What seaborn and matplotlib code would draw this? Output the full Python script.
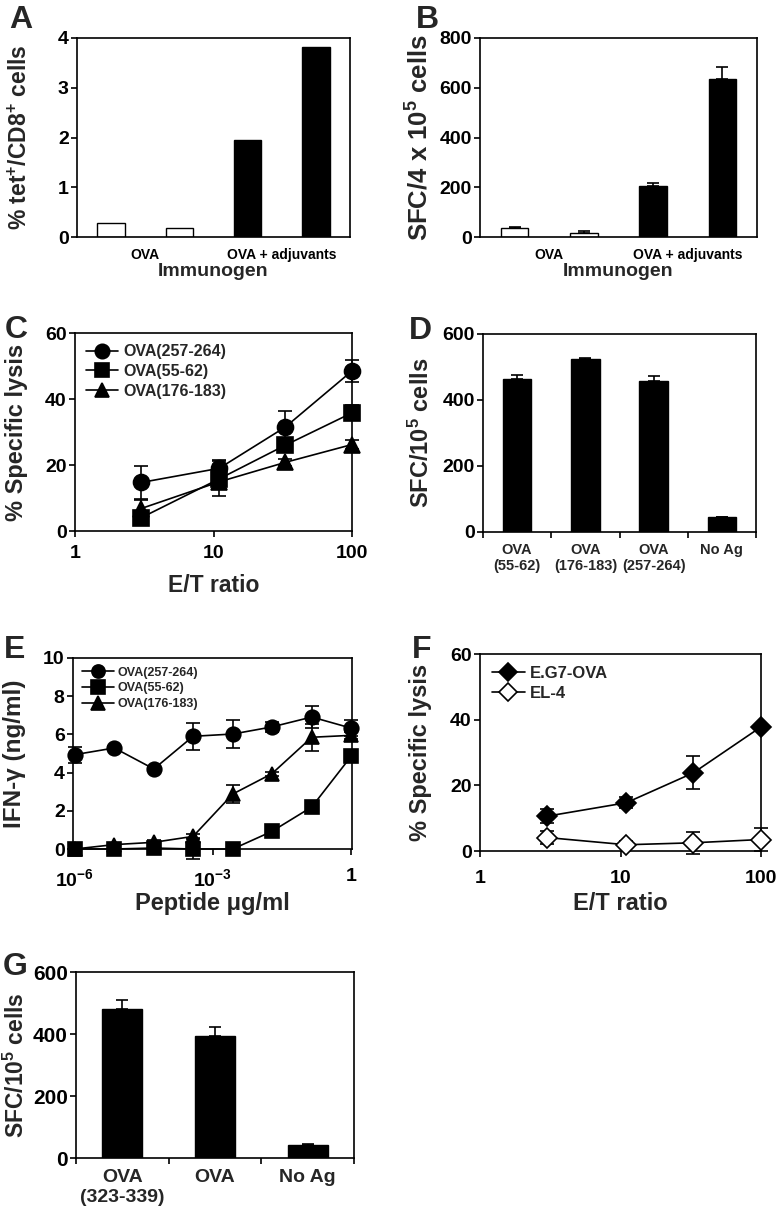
import numpy as np
import pandas as pd
import matplotlib
matplotlib.use('Agg')
import matplotlib.pyplot as plt
import seaborn as sns
from matplotlib.ticker import NullLocator, FixedLocator

# ---- data ----
# A: tetramer staining, 4 mice
a_mice = ['OVA-1', 'OVA-2', 'adj-1', 'adj-2']
a_groups = ['OVA', 'OVA + adjuvants']
a_vals = [0.29, 0.19, 1.94, 3.81]

# B: ELISPOT, 4 mice
b_vals = [38, 16, 207, 636]
b_err = [4, 9, 9, 47]

# C: CTL lysis vs E/T
et_ratio = [3, 11, 33, 100]
c_257 = [14.7, 19.0, 31.5, 48.5]
c_257_err = [5.0, 2.5, 4.8, 3.2]
c_55 = [4.0, 15.8, 26.0, 35.8]
c_55_err = [2.0, 5.3, 2.0, 2.3]
c_176 = [6.8, 14.9, 20.8, 26.2]
c_176_err = [2.5, 1.5, 1.0, 1.5]

# D: ELISPOT per peptide
d_labels = ['OVA\n(55-62)', 'OVA\n(176-183)', 'OVA\n(257-264)', 'No Ag']
d_vals = [465, 523, 457, 44]
d_err = [12, 5, 16, 2]

# E: IFN-gamma vs peptide dose
peptide = [1e-6, 7.2e-6, 5.2e-5, 3.7e-4, 2.7e-3, 1.9e-2, 0.14, 1.0]
e_257 = [4.94, 5.29, 4.19, 5.90, 6.02, 6.39, 6.91, 6.33]
e_257_err = [0.42, 0.1, 0.1, 0.70, 0.75, 0.25, 0.60, 0.40]
e_55 = [0.0, 0.0, 0.05, 0.0, 0.0, 0.92, 2.2, 4.85]
e_55_err = [0.0, 0.0, 0.0, 0.5, 0.0, 0.1, 0.1, 0.1]
e_176 = [0.0, 0.23, 0.35, 0.66, 2.88, 3.94, 5.85, 5.95]
e_176_err = [0.0, 0.1, 0.1, 0.1, 0.45, 0.1, 0.70, 0.2]

# F: lysis of targets
f_eg7 = [10.6, 14.7, 23.8, 37.8]
f_eg7_err = [2.2, 1.7, 5.0, 0.5]
f_el4 = [4.1, 1.9, 2.5, 3.5]
f_el4_err = [2.0, 1.0, 3.4, 3.4]

# G: CD4 ELISPOT
g_labels = ['OVA\n(323-339)', 'OVA', 'No Ag']
g_vals = [482, 394, 41]
g_err = [27, 27, 3]

sns.set_style('ticks')
plt.rcParams['font.family'] = ['Liberation Sans', 'DejaVu Sans']
plt.rcParams['font.weight'] = 'bold'
plt.rcParams['axes.labelweight'] = 'bold'
plt.rcParams['mathtext.fontset'] = 'custom'
plt.rcParams['mathtext.rm'] = 'Liberation Sans:bold'
plt.rcParams['mathtext.it'] = 'Liberation Sans:bold'
plt.rcParams['mathtext.bf'] = 'Liberation Sans:bold'
plt.rcParams['mathtext.default'] = 'rm'
plt.rcParams['axes.linewidth'] = 1.2

W, H = 779, 1213
fig = plt.figure(figsize=(W / 100, H / 100), dpi=100)


def make_ax(x0, x1, y0, y1):
    return fig.add_axes([x0 / W, 1 - y1 / H, (x1 - x0) / W, (y1 - y0) / H])


def style(ax, ylabel, ycoord, yticks, ylim, ylabel_size=17, ytick_size=14):
    ax.set_ylim(*ylim)
    ax.set_yticks(yticks)
    ax.set_ylabel(ylabel, fontsize=ylabel_size)
    ax.yaxis.set_label_coords(ycoord, 0.5)
    ax.tick_params(axis='both', width=1.2, length=4, pad=2, colors='black')
    ax.tick_params(axis='y', labelsize=ytick_size)
    for s in ax.spines.values():
        s.set_linewidth(1.2)
        s.set_color('black')


def bar_panel(ax, cats, vals, colors, err, width):
    df = pd.DataFrame({'cat': cats, 'val': vals})
    sns.barplot(data=df, x='cat', y='val', hue='cat', order=cats,
                palette=dict(zip(cats, colors)), edgecolor='black',
                linewidth=1, width=width, errorbar=None, legend=False, ax=ax)
    if err is not None:
        ax.errorbar(range(len(vals)), vals, yerr=[np.zeros(len(vals)), err],
                    fmt='none', ecolor='black', elinewidth=1.2, capsize=4,
                    capthick=1.2, zorder=1)
    ax.set_xlim(-0.5, len(vals) - 0.5)
    ax.set_xlabel('')


def line_panel(ax, x, series, ms, legend_size, handlelength):
    for label, y, err, marker, face in series:
        ax.errorbar(x, y, yerr=err, fmt='none', ecolor='black', elinewidth=1.2,
                    capsize=5, capthick=1.2, clip_on=False, zorder=2)
        sns.lineplot(x=x, y=y, marker=marker, markersize=ms, color='black',
                     markerfacecolor=face, markeredgecolor='black',
                     markeredgewidth=1.2, linewidth=1.2, label=label,
                     clip_on=False, zorder=3, ax=ax)
    ax.legend(loc='upper left', frameon=False, fontsize=legend_size,
              handlelength=handlelength, handletextpad=0.3, labelspacing=0.3,
              borderaxespad=0.3, markerscale=0.9)


def letter(x, y, s):
    fig.text(x / W, 1 - y / H, s, fontsize=23, fontweight='bold',
             ha='center', va='center')


# ---- A ----
ax = make_ax(77, 350, 38, 237)
bar_panel(ax, a_mice, a_vals, ['white', 'white', 'black', 'black'], None, 0.4)
style(ax, '% tet$^{+}$/CD8$^{+}$ cells', -0.165, [0, 1, 2, 3, 4], (0, 4),
      ylabel_size=16.5)
ax.set_xticks([0.5, 2.5])
ax.set_xticklabels(a_groups, fontsize=10)
ax.tick_params(axis='x', length=0, pad=8)
ax.set_xlabel('Immunogen', fontsize=14, labelpad=1)
letter(21, 20, 'A')

# ---- B ----
ax = make_ax(480, 757, 38, 237)
bar_panel(ax, a_mice, b_vals, ['white', 'white', 'black', 'black'], b_err, 0.4)
style(ax, 'SFC/4 x 10$^{5}$ cells', -0.17, [0, 200, 400, 600, 800], (0, 800),
      ylabel_size=18.5)
ax.set_xticks([0.5, 2.5])
ax.set_xticklabels(a_groups, fontsize=10)
ax.tick_params(axis='x', length=0, pad=8)
ax.set_xlabel('Immunogen', fontsize=14, labelpad=1)
letter(427, 20, 'B')

# ---- C ----
ax = make_ax(75, 352, 333, 531)
line_panel(ax, et_ratio, [
    ('OVA(257-264)', c_257, c_257_err, 'o', 'black'),
    ('OVA(55-62)', c_55, c_55_err, 's', 'black'),
    ('OVA(176-183)', c_176, c_176_err, '^', 'black'),
], 11.5, 11.5, 2.0)
ax.set_xscale('log')
ax.set_xlim(1, 100)
ax.set_xticks([1, 10, 100])
ax.set_xticklabels(['1', '10', '100'])
ax.xaxis.set_minor_locator(NullLocator())
style(ax, '% Specific lysis', -0.17, [0, 20, 40, 60], (0, 60))
ax.tick_params(axis='x', labelsize=14, pad=6)
ax.set_xlabel('E/T ratio', fontsize=16.5, labelpad=9)
letter(16, 330, 'C')

# ---- D ----
ax = make_ax(483, 756, 334, 532)
bar_panel(ax, d_labels, d_vals, ['black'] * 4, d_err, 0.42)
style(ax, 'SFC/10$^{5}$ cells', -0.18, [0, 200, 400, 600], (0, 600))
ax.xaxis.set_major_locator(FixedLocator([-0.5, 0.5, 1.5, 2.5, 3.5]))
ax.set_xticklabels([''] * 5)
ax.xaxis.set_minor_locator(FixedLocator([0, 1, 2, 3]))
ax.set_xticklabels(d_labels, minor=True, fontsize=10.5)
ax.tick_params(axis='x', which='minor', length=0, pad=8)
letter(420, 331, 'D')

# ---- E ----
ax = make_ax(73, 352, 658, 849)
line_panel(ax, peptide, [
    ('OVA(257-264)', e_257, e_257_err, 'o', 'black'),
    ('OVA(55-62)', e_55, e_55_err, 's', 'black'),
    ('OVA(176-183)', e_176, e_176_err, '^', 'black'),
], 10.5, 9, 2.6)
ax.set_xscale('log')
ax.set_xlim(10 ** -6.04, 10 ** 0.02)
ax.set_xticks([1e-6, 1e-3, 1])
ax.set_xticklabels(['$10^{-6}$', '$10^{-3}$', '1'])
ax.xaxis.set_minor_locator(NullLocator())
style(ax, 'IFN-γ (ng/ml)', -0.17, [0, 2, 4, 6, 8, 10], (0, 10),
      ylabel_size=17.5)
ax.tick_params(axis='x', labelsize=14, pad=10)
ax.set_xlabel('Peptide μg/ml', fontsize=17, labelpad=1)
letter(15, 650, 'E')

# ---- F ----
ax = make_ax(480, 761, 654, 851)
line_panel(ax, et_ratio, [
    ('E.G7-OVA', f_eg7, f_eg7_err, 'D', 'black'),
    ('EL-4', f_el4, f_el4_err, 'D', 'white'),
], 10.5, 12, 2.0)
ax.set_xscale('log')
ax.set_xlim(1, 100)
ax.set_xticks([1, 10, 100])
ax.set_xticklabels(['1', '10', '100'])
ax.xaxis.set_minor_locator(NullLocator())
style(ax, '% Specific lysis', -0.17, [0, 20, 40, 60], (0, 60))
ax.tick_params(axis='x', labelsize=14, pad=10)
ax.set_xlabel('E/T ratio', fontsize=17, labelpad=3)
letter(422, 650, 'F')

# ---- G ----
ax = make_ax(76, 354, 972, 1158)
bar_panel(ax, g_labels, g_vals, ['black'] * 3, g_err, 0.43)
style(ax, 'SFC/10$^{5}$ cells', -0.17, [0, 200, 400, 600], (0, 600),
      ylabel_size=16.5, ytick_size=15)
ax.xaxis.set_major_locator(FixedLocator([-0.5, 0.5, 1.5, 2.5]))
ax.set_xticklabels([''] * 4)
ax.xaxis.set_minor_locator(FixedLocator([0, 1, 2]))
ax.set_xticklabels(g_labels, minor=True, fontsize=14)
ax.tick_params(axis='x', which='minor', length=0, pad=8)
letter(15, 967, 'G')

fig.savefig('out.png', dpi=100)
